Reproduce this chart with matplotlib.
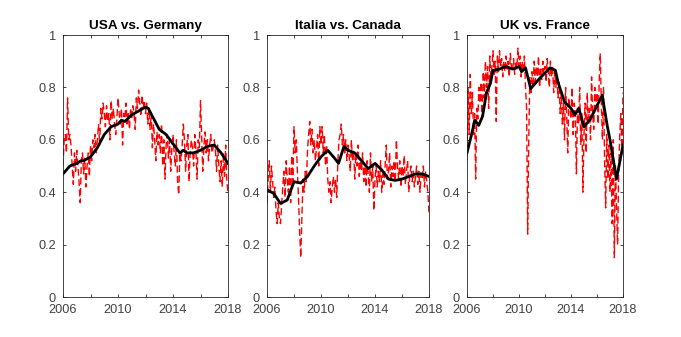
import numpy as np
import matplotlib
matplotlib.use("Agg")
import matplotlib.pyplot as plt

plt.rcParams['font.family'] = ['Liberation Sans', 'DejaVu Sans']

titles = ["USA vs. Germany", "Italia vs. Canada", "UK vs. France"]

# monthly noisy series, 2006.0 .. 2018.0
red_usa_ger = [
    0.50, 0.60, 0.62, 0.55, 0.76, 0.60, 0.62, 0.58, 0.50, 0.43, 0.55, 0.48,
    0.56, 0.50, 0.44, 0.36, 0.52, 0.55, 0.47, 0.53, 0.42, 0.50, 0.55, 0.46,
    0.58, 0.52, 0.60, 0.57, 0.62, 0.55, 0.60, 0.66, 0.58, 0.72, 0.68, 0.74,
    0.70, 0.65, 0.73, 0.67, 0.70, 0.60, 0.75, 0.68, 0.72, 0.66, 0.62, 0.68,
    0.76, 0.70, 0.66, 0.72, 0.58, 0.70, 0.68, 0.74, 0.66, 0.70, 0.64, 0.72,
    0.68, 0.73, 0.70, 0.64, 0.76, 0.72, 0.79, 0.74, 0.69, 0.77, 0.72, 0.75,
    0.70, 0.74, 0.66, 0.72, 0.64, 0.70, 0.57, 0.66, 0.60, 0.52, 0.63, 0.58,
    0.62, 0.55, 0.66, 0.50, 0.60, 0.45, 0.58, 0.62, 0.53, 0.60, 0.48, 0.57,
    0.62, 0.55, 0.50, 0.60, 0.44, 0.39, 0.55, 0.52, 0.58, 0.66, 0.60, 0.48,
    0.58, 0.62, 0.44, 0.55, 0.60, 0.57, 0.50, 0.62, 0.56, 0.45, 0.60, 0.57,
    0.75, 0.62, 0.48, 0.58, 0.63, 0.55, 0.60, 0.52, 0.58, 0.62, 0.55, 0.57,
    0.60, 0.56, 0.48, 0.58, 0.50, 0.44, 0.52, 0.42, 0.55, 0.46, 0.58, 0.44,
    0.40,
]
red_ita_can = [
    0.36, 0.45, 0.52, 0.40, 0.50, 0.44, 0.38, 0.42, 0.33, 0.28, 0.36, 0.30,
    0.28, 0.35, 0.42, 0.48, 0.38, 0.52, 0.45, 0.40, 0.50, 0.36, 0.54, 0.44,
    0.65, 0.55, 0.60, 0.48, 0.38, 0.25, 0.15, 0.30, 0.45, 0.40, 0.48, 0.44,
    0.56, 0.62, 0.67, 0.58, 0.64, 0.55, 0.60, 0.52, 0.57, 0.62, 0.50, 0.65,
    0.58, 0.65, 0.55, 0.62, 0.50, 0.58, 0.45, 0.40, 0.44, 0.36, 0.42, 0.46,
    0.40, 0.45, 0.38, 0.52, 0.60, 0.62, 0.66, 0.58, 0.62, 0.55, 0.60, 0.52,
    0.58, 0.54, 0.48, 0.60, 0.52, 0.56, 0.45, 0.55, 0.50, 0.58, 0.46, 0.52,
    0.48, 0.55, 0.44, 0.50, 0.42, 0.52, 0.47, 0.40, 0.55, 0.44, 0.50, 0.33,
    0.45, 0.50, 0.42, 0.48, 0.44, 0.52, 0.40, 0.47, 0.43, 0.50, 0.58, 0.45,
    0.48, 0.55, 0.42, 0.50, 0.46, 0.52, 0.44, 0.60, 0.50, 0.45, 0.52, 0.42,
    0.50, 0.46, 0.54, 0.43, 0.48, 0.52, 0.40, 0.47, 0.50, 0.44, 0.48, 0.42,
    0.46, 0.50, 0.43, 0.48, 0.40, 0.47, 0.45, 0.50, 0.42, 0.48, 0.44, 0.40,
    0.32,
]
red_uk_fra = [
    0.52, 0.80, 0.62, 0.85, 0.70, 0.78, 0.62, 0.70, 0.45, 0.72, 0.68, 0.80,
    0.74, 0.82, 0.68, 0.86, 0.76, 0.90, 0.80, 0.88, 0.72, 0.92, 0.82, 0.88,
    0.94, 0.85, 0.90, 0.67, 0.92, 0.86, 0.94, 0.88, 0.91, 0.84, 0.90, 0.86,
    0.92, 0.87, 0.90, 0.84, 0.93, 0.88, 0.86, 0.91, 0.85, 0.90, 0.87, 0.95,
    0.88, 0.92, 0.84, 0.90, 0.86, 0.92, 0.80, 0.72, 0.24, 0.60, 0.84, 0.78,
    0.86, 0.80, 0.90, 0.82, 0.88, 0.84, 0.92, 0.80, 0.87, 0.83, 0.90, 0.85,
    0.88, 0.82, 0.91, 0.86, 0.80, 0.90, 0.84, 0.88, 0.78, 0.86, 0.80, 0.84,
    0.76, 0.82, 0.70, 0.78, 0.66, 0.74, 0.60, 0.80, 0.70, 0.55, 0.76, 0.72,
    0.68, 0.80, 0.62, 0.74, 0.70, 0.47, 0.72, 0.66, 0.80, 0.58, 0.70, 0.40,
    0.62, 0.74, 0.55, 0.78, 0.66, 0.72, 0.60, 0.84, 0.70, 0.64, 0.80, 0.72,
    0.78, 0.66, 0.82, 0.93, 0.74, 0.60, 0.80, 0.52, 0.34, 0.62, 0.45, 0.58,
    0.40, 0.55, 0.28, 0.60, 0.15, 0.50, 0.35, 0.20, 0.48, 0.62, 0.70, 0.55,
    0.78,
]

# smoothed series
blk_usa_ger_x = [2006.0, 2006.5, 2007.0, 2007.3, 2007.5, 2008.0, 2008.5, 2009.0, 2009.5,
                 2010.0, 2010.25, 2010.5, 2011.0, 2011.5, 2012.0, 2012.2, 2012.5, 2013.0,
                 2013.5, 2014.0, 2014.5, 2014.75, 2015.0, 2015.5, 2016.0, 2016.5, 2017.0,
                 2017.5, 2018.0]
blk_usa_ger = [0.47, 0.50, 0.51, 0.52, 0.52, 0.535, 0.57, 0.62, 0.65,
               0.66, 0.675, 0.67, 0.695, 0.71, 0.725, 0.72, 0.69, 0.64,
               0.62, 0.585, 0.55, 0.56, 0.55, 0.55, 0.56, 0.575, 0.58,
               0.55, 0.51]
blk_ita_can_x = [2006.0, 2006.5, 2007.0, 2007.5, 2008.0, 2008.5, 2009.0, 2009.5, 2010.0,
                 2010.5, 2011.0, 2011.3, 2011.7, 2012.0, 2012.5, 2013.0, 2013.5, 2014.0,
                 2014.5, 2015.0, 2015.5, 2016.0, 2016.5, 2017.0, 2017.5, 2018.0]
blk_ita_can = [0.41, 0.395, 0.357, 0.37, 0.44, 0.435, 0.46, 0.50, 0.535,
               0.56, 0.53, 0.51, 0.575, 0.56, 0.55, 0.52, 0.49, 0.51,
               0.485, 0.45, 0.445, 0.45, 0.46, 0.47, 0.47, 0.46]
blk_uk_fra_x = [2006.0, 2006.3, 2006.6, 2006.9, 2007.2, 2007.5, 2007.8, 2008.0, 2008.5,
                2009.0, 2009.5, 2010.0, 2010.2, 2010.5, 2010.9, 2011.5, 2012.0, 2012.4,
                2012.8, 2013.0, 2013.5, 2014.0, 2014.3, 2014.6, 2015.0, 2015.5, 2016.0,
                2016.4, 2016.8, 2017.0, 2017.5, 2018.0]
blk_uk_fra = [0.55, 0.61, 0.675, 0.655, 0.69, 0.78, 0.815, 0.865, 0.87,
              0.88, 0.87, 0.88, 0.86, 0.875, 0.795, 0.83, 0.855, 0.875,
              0.865, 0.82, 0.745, 0.72, 0.695, 0.72, 0.65, 0.68, 0.73,
              0.77, 0.65, 0.60, 0.45, 0.58]

yticks = [0, 0.2, 0.4, 0.6, 0.8, 1]
ytick_labels = ["0", "0.2", "0.4", "0.6", "0.8", "1"]
xticks = [2006, 2008, 2010, 2012, 2014, 2016, 2018]
xtick_labels = ["2006", "", "2010", "", "2014", "", "2018"]

reds = [red_usa_ger, red_ita_can, red_uk_fra]
blks = [(blk_usa_ger_x, blk_usa_ger), (blk_ita_can_x, blk_ita_can), (blk_uk_fra_x, blk_uk_fra)]

W, H = 681, 337
fig = plt.figure(figsize=(W / 100, H / 100), dpi=100)
boxes = [(63, 228), (267, 429), (467, 623)]
top, bot = 35, 297
gray = '#262626'
for i in range(3):
    l, r = boxes[i]
    ax = fig.add_axes([l / W, (H - bot) / H, (r - l) / W, (bot - top) / H])
    red = np.array(reds[i])
    x = 2006 + np.arange(len(red)) / 12.0
    ax.plot(x, red, color='red', lw=1.0, ls=(0, (5, 2.5)))
    bx, by = blks[i]
    ax.plot(bx, by, color='black', lw=2.0)
    ax.set_xlim(2006, 2018)
    ax.set_ylim(0, 1)
    ax.set_xticks(xticks)
    ax.set_xticklabels(xtick_labels)
    ax.set_yticks(yticks)
    ax.set_yticklabels(ytick_labels)
    ax.tick_params(direction='in', top=True, right=True, length=2.5, width=0.6,
                   colors=gray, labelsize=9.2, labelcolor='#404040')
    ax.tick_params(axis='x', pad=5)
    ax.tick_params(axis='y', pad=5)
    for s in ax.spines.values():
        s.set_color(gray)
        s.set_linewidth(0.6)
    ax.set_title(titles[i], fontsize=9.7, fontweight='bold', pad=4)

fig.savefig('out.png', dpi=100)
